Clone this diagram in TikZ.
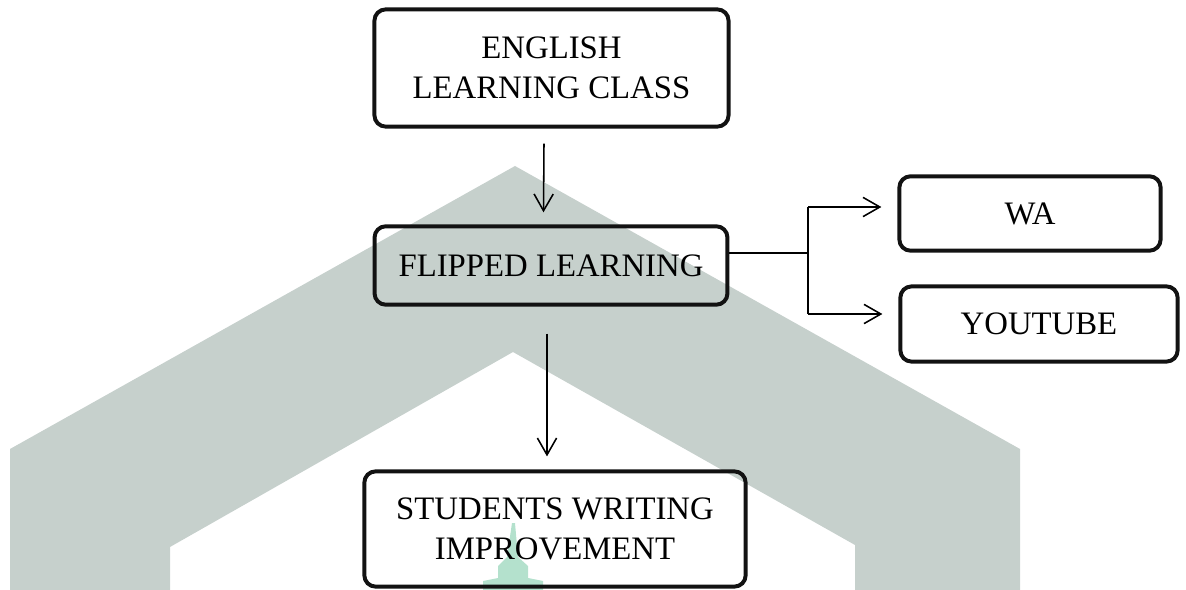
\documentclass[tikz,border=0pt]{standalone}
\usepackage{fontspec}
\setmainfont{Liberation Serif}
\usetikzlibrary{arrows.meta}

\definecolor{chevgrey}{RGB}{198,208,204}
\definecolor{towergreen}{RGB}{180,225,205}

\tikzset{
    box/.style={draw=black!93,line width=2.8pt,rounded corners=0.28cm,inner sep=0pt,align=center,
        font=\fontsize{23.3pt}{28.8pt}\selectfont},
    arr/.style={line width=1.1pt,-{Straight Barb[length=0.42cm,width=0.48cm,line width=1.1pt]}}
}

\begin{document}
\begin{tikzpicture}[x=0.025cm,y=-0.025cm]
    \useasboundingbox (0,0) rectangle (1186,590);

    % background chevron and tower
    \fill[chevgrey] (10,590) -- (10,449) -- (515,166) -- (1020,449) -- (1020,590) -- (855,590)
        -- (855,545) -- (513,352) -- (170,547) -- (170,590) -- cycle;
    \fill[towergreen] (512,523) -- (507,557) -- (498,566) -- (498,578) -- (483,581) -- (483,590)
        -- (543,590) -- (543,581) -- (528,578) -- (528,566) -- (518,557) -- (515,523) -- cycle;

    \node[box,minimum width=8.85cm,minimum height=2.93cm] (english) at (551.5,68) {ENGLISH\\LEARNING CLASS};
    \node[box,minimum width=8.82cm,minimum height=1.96cm] (flipped) at (551,265.5) {FLIPPED LEARNING};
    \node[box,minimum width=6.53cm,minimum height=1.86cm] (wa) at (1030,213.5) {WA};
    \node[box,minimum width=6.93cm,minimum height=1.88cm] (youtube) at (1039,324) {YOUTUBE};
    \node[box,minimum width=9.53cm,minimum height=2.88cm] (students) at (555,529) {STUDENTS WRITING\\IMPROVEMENT};

    \coordinate (fork) at (808,253);

    \draw[arr] ([shift={(-7.5,15)}]english.south) -- ([shift={(-7.5,-12)}]flipped.north);
    \draw[arr] ([shift={(-4,27)}]flipped.south) -- ([shift={(-8,-13)}]students.north);
    \draw[line width=1.1pt] ([shift={(0,-12.5)}]flipped.east) -- (fork);
    \draw[line width=1.1pt] (fork) -- ++(0,-46) (fork) -- ++(0,61);
    \draw[arr] (fork |- 0,207) -- ([shift={(-16,-6.5)}]wa.west);
    \draw[arr] (fork |- 0,314) -- ([shift={(-16,-10)}]youtube.west);
\end{tikzpicture}
\end{document}
